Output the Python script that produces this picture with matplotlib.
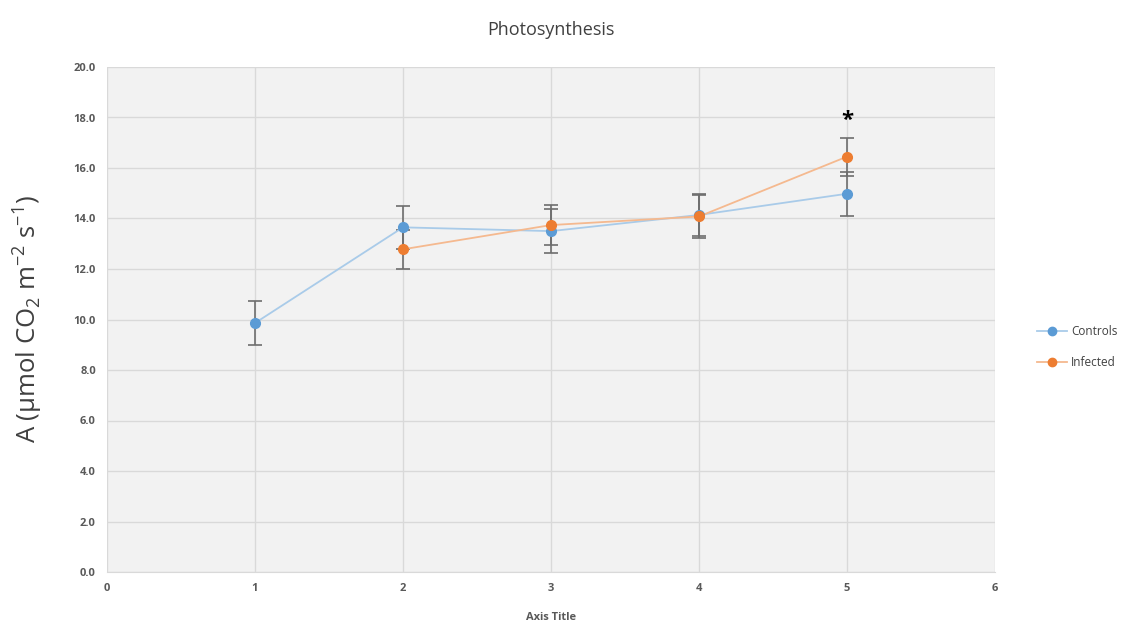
import matplotlib
matplotlib.use("Agg")
import matplotlib.pyplot as plt
from matplotlib.ticker import FormatStrFormatter, MultipleLocator
from matplotlib.lines import Line2D

# Data
ctrl_x = [1, 2, 3, 4, 5]
ctrl_y = [9.86, 13.65, 13.5, 14.14, 14.98]
ctrl_err = [0.87, 0.85, 0.87, 0.85, 0.87]

inf_x = [2, 3, 4, 5]
inf_y = [12.78, 13.74, 14.08, 16.45]
inf_err = [0.78, 0.8, 0.85, 0.75]

star_x = 5
star_y = 17.9

title = "Photosynthesis"
xlabel = "Axis Title"
ylabel = r"A ($\mathregular{\mu}$mol CO$_\mathregular{2}$ m$^\mathregular{-2}$ s$^\mathregular{-1}$)"

plt.rcParams['font.family'] = ['Open Sans', 'DejaVu Sans']

fig = plt.figure(figsize=(11.22, 6.23), dpi=100)
ax = fig.add_axes([107/1122, 1-572/623, (995-107)/1122, (572-67)/623])
ax.set_facecolor('#f2f2f2')

blue = '#5B9BD5'
orange = '#ED7D31'
errc = '#6d6d6d'

ax.errorbar(ctrl_x, ctrl_y, yerr=ctrl_err, fmt='none', ecolor=errc, elinewidth=1.2, capsize=5, capthick=1.2, zorder=3)
ax.errorbar(inf_x, inf_y, yerr=inf_err, fmt='none', ecolor=errc, elinewidth=1.2, capsize=5, capthick=1.2, zorder=3)
ax.plot(ctrl_x, ctrl_y, color='#a9cbe9', lw=1.3, zorder=4)
ax.plot(inf_x, inf_y, color='#f5b98f', lw=1.3, zorder=4)
ax.plot(ctrl_x, ctrl_y, 'o', color=blue, ms=7, zorder=5)
ax.plot(inf_x, inf_y, 'o', color=orange, ms=7, zorder=5)

h1 = Line2D([], [], color='#a9cbe9', lw=1.3, marker='o', markerfacecolor=blue, markeredgecolor=blue, ms=6)
h2 = Line2D([], [], color='#f5b98f', lw=1.3, marker='o', markerfacecolor=orange, markeredgecolor=orange, ms=6)
leg = ax.legend([h1, h2], ['Controls', 'Infected'], loc='center left', bbox_to_anchor=(1.035, 0.445),
                frameon=False, fontsize=8.5, labelspacing=1.55, handlelength=2.6, handletextpad=0.3)
for t in leg.get_texts():
    t.set_color('#404040')

ax.text(star_x, star_y, '*', ha='center', va='center', fontsize=16, fontweight='bold', color='black', zorder=6)

ax.set_xlim(0, 6)
ax.set_ylim(0, 20)
ax.xaxis.set_major_locator(MultipleLocator(1))
ax.yaxis.set_major_locator(MultipleLocator(2))
ax.yaxis.set_major_formatter(FormatStrFormatter('%.1f'))
ax.grid(True, color='#d9d9d9', lw=1.0, zorder=0)
ax.set_axisbelow(True)
for s in ax.spines.values():
    s.set_visible(False)
ax.spines['bottom'].set_visible(True)
ax.spines['bottom'].set_color('#d9d9d9')
ax.tick_params(length=0, labelsize=8, labelcolor='#595959', pad=8)
for lab in ax.get_xticklabels() + ax.get_yticklabels():
    lab.set_fontweight('bold')

ax.set_title(title, fontsize=13, color='#404040', pad=23)
ax.set_xlabel(xlabel, fontsize=8, fontweight='bold', color='#595959', labelpad=13)
ax.set_ylabel(ylabel, fontsize=18.5, color='#404040', labelpad=21)

fig.savefig('out.png', dpi=100, facecolor='white')
